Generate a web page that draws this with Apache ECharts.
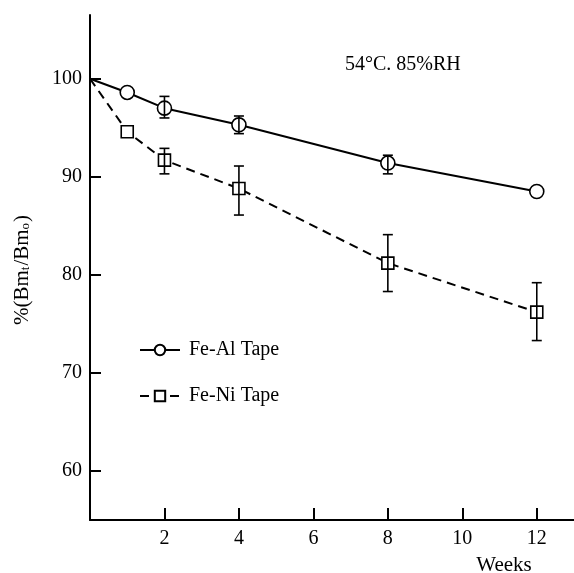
<!DOCTYPE html>
<html>
<head>
<meta charset="utf-8">
<script src="https://cdn.jsdelivr.net/npm/echarts@6/dist/echarts.min.js"></script>
<style>
  html, body { margin: 0; padding: 0; background: #fff; }
  #chart { width: 574px; height: 573px; }
</style>
</head>
<body>
<div id="chart"></div>
<script>
// data
const weeks = [0, 1, 2, 4, 8, 12]
const feAl = [100, 98.6, 97.0, 95.3, 91.4, 88.5]
const feNi = [100, 94.6, 91.7, 88.8, 81.2, 76.2]

// error bars: [week, low, high]
const feAlErr = [[2, 96.0, 98.2], [4, 94.4, 96.2], [8, 90.3, 92.2]]
const feNiErr = [[2, 90.3, 92.9], [4, 86.1, 91.1], [8, 78.3, 84.1], [12, 73.3, 79.2]]

const xTicks = [2, 4, 6, 8, 10, 12]
const yTicks = [60, 70, 80, 90, 100]

const font = 'Liberation Serif'

function pairs(ys) {
  return weeks.map((w, i) => {
    const p = { value: [w, ys[i]] }
    if (i === 0) p.symbol = 'none'
    return p
  })
}

function errorBar(params, api) {
  const x = api.value(0)
  const lo = api.coord([x, api.value(1)])
  const hi = api.coord([x, api.value(2)])
  const cap = 5
  const style = { stroke: '#000', lineWidth: 1.6 }
  return {
    type: 'group',
    children: [
      { type: 'line', shape: { x1: lo[0], y1: lo[1], x2: hi[0], y2: hi[1] }, style },
      { type: 'line', shape: { x1: lo[0] - cap, y1: lo[1], x2: lo[0] + cap, y2: lo[1] }, style },
      { type: 'line', shape: { x1: hi[0] - cap, y1: hi[1], x2: hi[0] + cap, y2: hi[1] }, style }
    ]
  }
}

const chart = echarts.init(document.getElementById('chart'))
chart.setOption({
  animation: false,
  backgroundColor: '#fff',
  textStyle: { fontFamily: font, color: '#000' },
  grid: { left: 90, right: 0, top: 15, bottom: 53 },
  title: {
    text: '54°C. 85%RH',
    left: 340,
    top: 50,
    textStyle: { fontFamily: font, fontSize: 20, fontWeight: 'normal', color: '#000' }
  },
  legend: {
    orient: 'vertical',
    left: 134,
    top: 335,
    itemWidth: 40,
    itemHeight: 13,
    itemGap: 26,
    textStyle: { fontFamily: font, fontSize: 20, color: '#000', padding: [0, 0, 0, 4] },
    data: ['Fe-Al Tape', 'Fe-Ni Tape']
  },
  xAxis: {
    type: 'value',
    min: 0,
    max: 13,
    splitLine: { show: false },
    axisLine: { lineStyle: { color: '#000', width: 2 } },
    axisTick: { inside: true, length: 12, customValues: xTicks, lineStyle: { color: '#000', width: 2 } },
    axisLabel: { customValues: xTicks, margin: 9, fontFamily: font, fontSize: 20, color: '#000' }
  },
  yAxis: {
    type: 'value',
    min: 55,
    max: 106.5,
    splitLine: { show: false },
    axisLine: { lineStyle: { color: '#000', width: 2 } },
    axisTick: { inside: true, length: 11, customValues: yTicks, lineStyle: { color: '#000', width: 2 } },
    axisLabel: { customValues: yTicks, margin: 8, fontFamily: font, fontSize: 20, color: '#000' }
  },
  graphic: [
    {
      type: 'text',
      x: 22,
      y: 270,
      rotation: Math.PI / 2,
      style: {
        text: '%(Bm{s|t}/Bm{s|o})',
        fontFamily: font,
        fontSize: 21,
        fill: '#000',
        align: 'center',
        verticalAlign: 'middle',
        rich: { s: { fontFamily: font, fontSize: 13, padding: [8, 1, 0, 0] } }
      }
    },
    {
      type: 'text',
      x: 504,
      y: 565,
      style: {
        text: 'Weeks',
        fontFamily: font,
        fontSize: 21,
        fill: '#000',
        align: 'center',
        verticalAlign: 'middle'
      }
    }
  ],
  series: [
    {
      name: 'Fe-Al Tape',
      type: 'line',
      data: pairs(feAl),
      symbol: 'circle',
      symbolSize: 14,
      itemStyle: { color: '#fff', borderColor: '#000', borderWidth: 1.6 },
      lineStyle: { color: '#000', width: 2 },
      z: 3
    },
    {
      name: 'Fe-Ni Tape',
      type: 'line',
      data: pairs(feNi),
      symbol: 'rect',
      symbolSize: 12,
      itemStyle: { color: '#fff', borderColor: '#000', borderWidth: 1.6 },
      lineStyle: { color: '#000', width: 2, type: [9, 6] },
      z: 3
    },
    {
      type: 'custom',
      renderItem: errorBar,
      data: feAlErr,
      encode: { x: 0, y: [1, 2] },
      z: 5
    },
    {
      type: 'custom',
      renderItem: errorBar,
      data: feNiErr,
      encode: { x: 0, y: [1, 2] },
      z: 5
    }
  ]
})
</script>
</body>
</html>
